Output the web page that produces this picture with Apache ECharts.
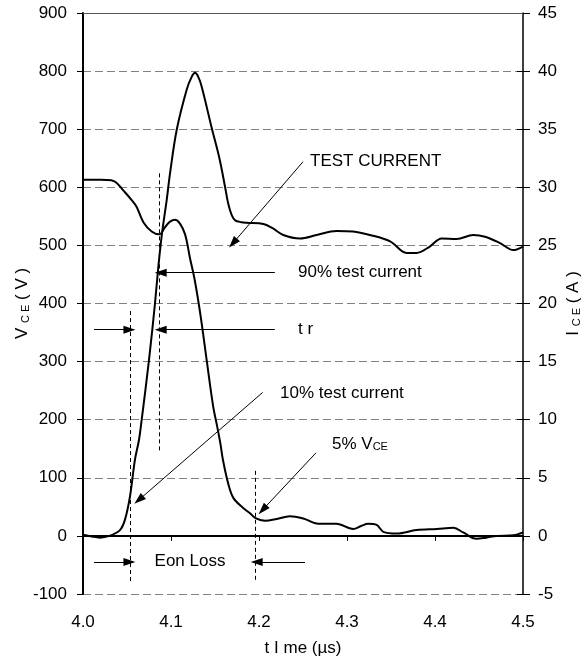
<!DOCTYPE html>
<html>
<head>
<meta charset="utf-8">
<script src="https://cdn.jsdelivr.net/npm/echarts@6/dist/echarts.min.js"></script>
<style>
  html, body { margin: 0; padding: 0; background: #fff; }
  #chart { width: 584px; height: 665px; }
</style>
</head>
<body>
<div id="chart"></div>
<script>
// Turn-on switching waveform: collector-emitter voltage and collector current.
const timeV = [4.000, 4.020, 4.032, 4.038, 4.045, 4.0553, 4.061, 4.0686, 4.078, 4.0867, 4.0935, 4.0989,
  4.1045, 4.110, 4.116, 4.1216, 4.127, 4.1335, 4.1405, 4.148, 4.152, 4.156, 4.159, 4.165, 4.171,
  4.182, 4.1898, 4.1955, 4.2068, 4.220, 4.235, 4.2503, 4.2674, 4.288, 4.307, 4.316, 4.324, 4.3337,
  4.3413, 4.3565, 4.379, 4.402, 4.421, 4.432, 4.447, 4.458, 4.470, 4.489, 4.500];
const vce = [613, 613, 612, 608, 596, 578, 566, 540, 524, 519, 532, 541,
  544, 538, 519, 478, 440, 380, 303, 222, 192, 160, 131, 90, 65,
  48, 39, 31, 26, 29, 34, 30, 21, 21, 12, 17, 21, 19,
  7, 4, 10, 12, 14, 6, -5, -3, 0, 1, 6];

const timeI = [4.000, 4.010, 4.019, 4.030, 4.042, 4.0477, 4.0534, 4.059, 4.0636, 4.0667, 4.075, 4.0818,
  4.0856, 4.0898, 4.0951, 4.0989, 4.1065, 4.1178, 4.1235, 4.1273, 4.131, 4.1349, 4.1463, 4.155,
  4.1614, 4.165, 4.169, 4.173, 4.180, 4.186, 4.205, 4.215, 4.2276, 4.2466, 4.2656, 4.288, 4.307,
  4.326, 4.349, 4.3678, 4.379, 4.394, 4.4076, 4.4246, 4.4435, 4.4568, 4.4739, 4.489, 4.500];
const ice = [0.1, -0.05, -0.15, 0.0, 0.5, 1.4, 3.4, 6.55, 8.25, 10.0, 15.15, 20.0,
  23.15, 26.05, 28.9, 31.2, 34.95, 38.4, 39.5, 39.85, 39.5, 38.65, 35.1, 32.5,
  30.05, 28.6, 27.6, 27.15, 27.0, 26.95, 26.85, 26.5, 25.9, 25.6, 25.9, 26.25, 26.2,
  25.9, 25.35, 24.35, 24.35, 24.9, 25.6, 25.55, 25.9, 25.75, 25.2, 24.6, 24.9];

// Axis ranges and tick steps
const timeRange = [4.0, 4.5, 0.1];
const voltRange = [-100, 900, 100];
const ampRange = [-5, 45, 5];

// Annotation texts and where they sit, in (time, volts)
const noteTexts = [
  { text: 'TEST CURRENT', at: [4.258, 644] },
  { text: '90% test current', at: [4.2443, 453] },
  { text: 't r', at: [4.2443, 356] },
  { text: '10% test current', at: [4.2239, 245] },
  { text: '5% V{sub|CE}', at: [4.283, 158] },
  { text: 'Eon Loss', at: [4.1216, -43], center: true }
];
// Leader lines ending in an arrowhead: [from, tip]
const arrows = [
  [[4.250, 644], [4.1705, 504]],
  [[4.218, 453], [4.0883, 453]],
  [[4.218, 355], [4.0883, 355]],
  [[4.0125, 355], [4.0528, 355]],
  [[4.2042, 247], [4.0635, 62]],
  [[4.2648, 143], [4.2042, 45]],
  [[4.0125, -45], [4.0528, -45]],
  [[4.2523, -45], [4.1974, -45]]
];
// Dashed timing markers
const markers = [
  [4.0867, 624, 143],
  [4.0534, 387, -81],
  [4.1955, 112, -77]
];

const FONT = "'Liberation Sans', Arial, sans-serif";
const zip = (xs, ys) => xs.map((x, i) => [x, ys[i]]);

const chart = echarts.init(document.getElementById('chart'), null, { renderer: 'canvas' });

const arrowHead = 'path://M0,0 L6,14 L-6,14 Z';

const markLineData = [];
arrows.forEach(([a, b]) => {
  markLineData.push([
    { coord: a, symbol: 'none' },
    { coord: b, symbol: arrowHead, symbolSize: [8, 12] }
  ]);
});
markers.forEach(([t, y0, y1]) => {
  markLineData.push([
    { coord: [t, y0], symbol: 'none', lineStyle: { type: [4, 3], width: 1, color: '#000' } },
    { coord: [t, y1], symbol: 'none' }
  ]);
});
// Solid frame line along the top of the plot
markLineData.push([
  { coord: [timeRange[0], voltRange[1]], symbol: 'none', lineStyle: { type: 'solid', color: '#555', width: 1 } },
  { coord: [timeRange[1], voltRange[1]], symbol: 'none' }
]);

const markPointData = noteTexts.map(n => ({
  coord: n.at,
  symbol: 'circle',
  symbolSize: 0,
  label: {
    show: true,
    position: n.center ? 'inside' : 'right',
    distance: 0,
    formatter: n.text,
    color: '#000',
    fontSize: 17,
    fontFamily: FONT,
    rich: { sub: { fontSize: 11, fontFamily: FONT, color: '#000', verticalAlign: 'bottom', padding: [6, 0, 0, 0] } }
  }
}));

const subRich = { sub: { fontSize: 11, fontFamily: FONT, color: '#000', padding: [6, 0, 0, 0] } };

const option = {
  backgroundColor: '#fff',
  animation: false,
  grid: { left: 83, right: 61, top: 13, bottom: 71, containLabel: false, outerBoundsMode: 'none' },
  xAxis: {
    type: 'value',
    min: timeRange[0], max: timeRange[1], interval: timeRange[2],
    axisLine: { lineStyle: { color: '#000', width: 2 } },
    axisTick: { show: true, length: 5, lineStyle: { color: '#000', width: 1 } },
    axisLabel: { color: '#000', fontSize: 17, fontFamily: FONT, margin: 20,
      formatter: v => v.toFixed(1) },
    splitLine: { show: false },
    name: 't I me (µs)',
    nameLocation: 'middle',
    nameGap: 46,
    nameMoveOverlap: false,
    nameTextStyle: { color: '#000', fontSize: 17, fontFamily: FONT }
  },
  yAxis: [
    {
      type: 'value', position: 'left',
      min: voltRange[0], max: voltRange[1], interval: voltRange[2],
      axisLine: { show: true, lineStyle: { color: '#000', width: 2 } },
      axisTick: { show: true, length: 6, lineStyle: { color: '#000', width: 1 } },
      axisLabel: { color: '#000', fontSize: 17, fontFamily: FONT, margin: 16 },
      splitLine: { show: true, lineStyle: { color: '#808080', width: 1, type: [8, 4] } },
      name: 'V {sub|C E} ( V )',
      nameLocation: 'middle',
      nameRotate: 90,
      nameGap: 52,
      nameMoveOverlap: false,
      nameTextStyle: { color: '#000', fontSize: 17, fontFamily: FONT, rich: subRich }
    },
    {
      type: 'value', position: 'right',
      min: ampRange[0], max: ampRange[1], interval: ampRange[2],
      axisLine: { show: true, lineStyle: { color: '#000', width: 1.5 } },
      axisTick: { show: true, length: 7, lineStyle: { color: '#000', width: 1 } },
      axisLabel: { color: '#000', fontSize: 17, fontFamily: FONT, margin: 15 },
      splitLine: { show: false },
      name: 'I {sub|C E} ( A )',
      nameLocation: 'middle',
      nameRotate: 90,
      nameGap: 42,
      nameMoveOverlap: false,
      nameTextStyle: { color: '#000', fontSize: 17, fontFamily: FONT, rich: subRich }
    },
    {
      // inward half of the crossing ticks on the current axis
      type: 'value', position: 'right',
      min: ampRange[0], max: ampRange[1], interval: ampRange[2],
      axisLine: { show: false },
      axisTick: { show: true, inside: true, length: 6, lineStyle: { color: '#000', width: 1 } },
      axisLabel: { show: false },
      splitLine: { show: false }
    }
  ],
  series: [
    {
      name: 'VCE',
      type: 'line',
      yAxisIndex: 0,
      data: zip(timeV, vce),
      smooth: 0.35,
      showSymbol: false,
      lineStyle: { color: '#000', width: 2 },
      z: 3,
      markLine: {
        silent: true,
        animation: false,
        symbol: ['none', 'none'],
        label: { show: false },
        lineStyle: { color: '#000', width: 1, type: 'solid' },
        emphasis: { disabled: true },
        data: markLineData
      },
      markPoint: {
        silent: true,
        animation: false,
        data: markPointData
      }
    },
    {
      name: 'ICE',
      type: 'line',
      yAxisIndex: 1,
      data: zip(timeI, ice),
      smooth: 0.35,
      showSymbol: false,
      lineStyle: { color: '#000', width: 2 },
      z: 3
    }
  ]
};

chart.setOption(option);
</script>
</body>
</html>
